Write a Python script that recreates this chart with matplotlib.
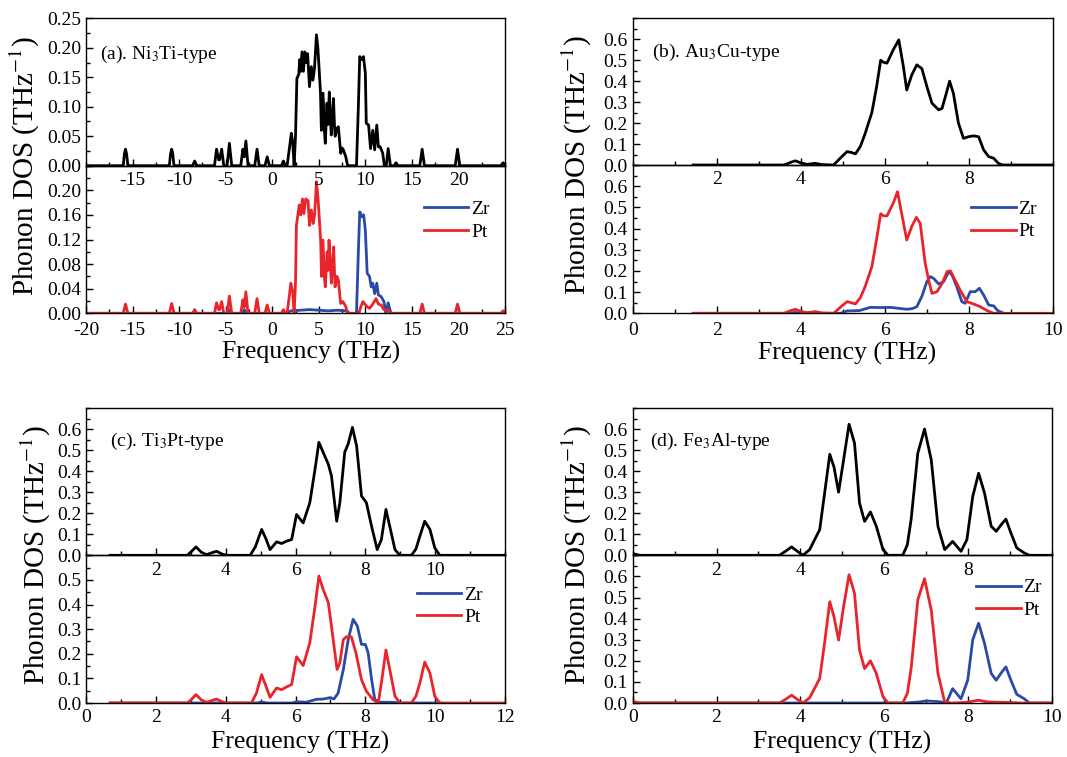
import matplotlib.pyplot as plt
from matplotlib.ticker import AutoMinorLocator

plt.rcParams['font.family'] = 'serif'
plt.rcParams['font.serif'] = ['Liberation Serif', 'DejaVu Serif']
plt.rcParams['mathtext.fontset'] = 'stix'
plt.rcParams['axes.unicode_minus'] = False

# ---- (a) Ni3Ti-type ----
freq_a_tot = [-20, -16.0, -15.88, -15.76, -15.64, -15.5, -11.05, -10.92, -10.8, -10.68, -10.55,
              -8.55, -8.33, -8.1, -6.2, -5.98, -5.75, -5.65, -5.43, -5.2, -4.85, -4.6, -4.35,
              -3.38, -3.15, -3.0, -2.83, -2.6, -1.88, -1.63, -1.4, -0.78, -0.54, -0.3, 1.0, 1.2, 1.4,
              1.6, 1.85, 2.05, 2.2, 2.35, 2.5, 2.65, 2.85, 2.95, 3.05, 3.2, 3.35, 3.5, 3.65, 3.8,
              4.0, 4.2, 4.37, 4.54, 4.75, 4.9, 5.0, 5.18, 5.28, 5.46, 5.6, 5.7, 5.88, 6.0, 6.13,
              6.25, 6.34, 6.58, 6.68, 6.76, 6.94, 7.1, 7.36, 7.5, 7.64, 7.9, 8.1, 9.05, 9.25, 9.4,
              9.6, 9.8, 10.0, 10.1, 10.35, 10.56, 10.8, 11.0, 11.23, 11.4, 11.6, 11.87, 12.04,
              12.25, 12.45, 12.7, 13.1, 13.3, 13.5, 15.85, 16.1, 16.35, 19.65, 19.9, 20.15,
              24.55, 24.8, 25]
dos_a_tot = [0, 0, 0.02, 0.028, 0.02, 0, 0, 0.02, 0.028, 0.02, 0,
             0, 0.008, 0, 0, 0.028, 0.01, 0.01, 0.028, 0, 0, 0.038, 0,
             0, 0.028, 0.015, 0.042, 0, 0, 0.028, 0, 0, 0.015, 0, 0, 0.008, 0,
             0, 0.03, 0.055, 0.04, 0, 0.05, 0.148, 0.155, 0.18, 0.16, 0.193, 0.16, 0.193, 0.175, 0.19,
             0.134, 0.168, 0.145, 0.165, 0.222, 0.2, 0.174, 0.125, 0.06, 0.123, 0.06, 0.038, 0.106, 0.07, 0.125,
             0.08, 0.052, 0.114, 0.07, 0.05, 0.063, 0.066, 0.021, 0.03, 0.027, 0.015, 0, 0, 0.1, 0.185,
             0.18, 0.185, 0.157, 0.072, 0.069, 0.029, 0.06, 0.027, 0.069, 0.032, 0.032, 0.021, 0,
             0, 0.029, 0, 0, 0.005, 0, 0, 0.028, 0, 0, 0.028, 0,
             0, 0.005, 0]

freq_a_zr = [-20, -4.8, -4.6, -4.4, -3.2, -3.0, -2.8, 1.5, 2.0, 3.0, 4.0, 5.0, 6.0, 7.0, 8.0, 8.3,
             9.05, 9.25, 9.4, 9.65, 9.82, 10.0, 10.2, 10.45, 10.63, 10.8, 11.0, 11.23, 11.4, 11.7,
             12.0, 12.2, 12.45, 12.75, 25]
dos_a_zr = [0, 0, 0.006, 0, 0, 0.006, 0, 0, 0.004, 0.005, 0.006, 0.005, 0.004, 0.005, 0.004, 0,
            0, 0.1, 0.165, 0.157, 0.16, 0.135, 0.065, 0.06, 0.043, 0.049, 0.032, 0.049, 0.03, 0.027,
            0.019, 0, 0.017, 0, 0]

freq_a_pt = [-20, -16.0, -15.76, -15.5, -11.05, -10.8, -10.55, -8.55, -8.33, -8.1,
             -6.2, -5.98, -5.75, -5.65, -5.43, -5.2, -4.85, -4.6, -4.35, -3.38, -3.15, -3.0, -2.83, -2.6,
             -1.88, -1.63, -1.4, -0.78, -0.54, -0.3, 1.0, 1.2, 1.4,
             1.6, 1.85, 2.0, 2.2, 2.35, 2.5, 2.6, 2.9, 3.05, 3.25, 3.4, 3.6, 3.85, 4.0, 4.2, 4.4,
             4.55, 4.75, 4.9, 5.0, 5.2, 5.3, 5.45, 5.6, 5.7, 5.9, 6.0, 6.1, 6.25, 6.35, 6.6, 6.68,
             6.75, 6.95, 7.1, 7.35, 7.6, 7.9, 8.1, 9.3, 9.55, 9.75, 10.1, 10.45, 10.8, 11.15, 11.4,
             11.7, 12.0, 12.4, 12.7, 15.85, 16.1, 16.35, 19.65, 19.9, 20.15, 24.55, 24.8, 25]
dos_a_pt = [0, 0, 0.015, 0, 0, 0.016, 0, 0, 0.006, 0,
            0, 0.017, 0.006, 0.006, 0.019, 0, 0, 0.028, 0, 0, 0.022, 0.01, 0.035, 0,
            0, 0.024, 0, 0, 0.0135, 0, 0, 0.006, 0,
            0, 0.03, 0.049, 0.035, 0, 0.05, 0.143, 0.176, 0.16, 0.186, 0.162, 0.186, 0.183, 0.143, 0.168, 0.146,
            0.16, 0.214, 0.19, 0.168, 0.119, 0.06, 0.119, 0.06, 0.043, 0.1, 0.07, 0.119, 0.08, 0.049, 0.108, 0.07,
            0.043, 0.06, 0.054, 0.016, 0.019, 0.011, 0, 0, 0.012, 0.019, 0.012, 0.008, 0.015, 0.024, 0.015,
            0.0135, 0.006, 0.005, 0, 0, 0.015, 0, 0, 0.015, 0, 0, 0.004, 0]

# ---- (b) Au3Cu-type ----
freq_b_tot = [1.44, 3.6, 3.75, 3.87, 4.0, 4.15, 4.34, 4.5, 4.78, 4.95, 5.1, 5.2, 5.3, 5.42, 5.53,
              5.69, 5.8, 5.9, 5.97, 6.05, 6.2, 6.33, 6.44, 6.52, 6.64, 6.76, 6.88, 7.0, 7.12, 7.28,
              7.36, 7.44, 7.54, 7.63, 7.75, 7.87, 7.99, 8.11, 8.23, 8.35, 8.47, 8.59, 8.7, 8.8, 10]
dos_b_tot = [0, 0, 0.012, 0.02, 0.01, 0.003, 0.008, 0.002, 0, 0.035, 0.064, 0.06, 0.053, 0.09, 0.15,
             0.25, 0.37, 0.5, 0.49, 0.486, 0.55, 0.597, 0.47, 0.358, 0.43, 0.478, 0.46, 0.374, 0.295, 0.263,
             0.27, 0.327, 0.40, 0.342, 0.2, 0.127, 0.135, 0.139, 0.135, 0.072, 0.04, 0.032, 0.008, 0, 0]
freq_b_zr = [1.44, 3.7, 3.87, 4.0, 4.94, 5.1, 5.4, 5.65, 5.9, 6.13, 6.35, 6.52, 6.65, 6.76, 6.88,
             7.0, 7.08, 7.16, 7.28, 7.4, 7.52, 7.6, 7.71, 7.83, 7.91, 8.03, 8.15, 8.25, 8.35, 8.47,
             8.59, 8.68, 8.83]
dos_b_zr = [0, 0, 0.004, 0, 0, 0.011, 0.013, 0.028, 0.027, 0.028, 0.023, 0.019, 0.022, 0.031, 0.08,
            0.15, 0.173, 0.165, 0.138, 0.15, 0.197, 0.18, 0.126, 0.055, 0.047, 0.102, 0.102, 0.118, 0.086, 0.039,
            0.035, 0.013, 0]
freq_b_pt = [1.44, 3.6, 3.75, 3.87, 4.0, 4.15, 4.34, 4.5, 4.78, 4.95, 5.1, 5.2, 5.3, 5.42, 5.53,
             5.69, 5.8, 5.9, 5.97, 6.05, 6.2, 6.3, 6.4, 6.52, 6.64, 6.75, 6.84, 6.96, 7.04, 7.12,
             7.24, 7.36, 7.48, 7.56, 7.67, 7.79, 7.95, 8.11, 8.27, 8.43, 8.59, 10]
dos_b_pt = [0, 0, 0.012, 0.019, 0.009, 0.003, 0.008, 0.002, 0, 0.03, 0.055, 0.05, 0.044, 0.075, 0.126,
            0.22, 0.346, 0.47, 0.46, 0.46, 0.52, 0.574, 0.47, 0.346, 0.41, 0.453, 0.425, 0.236, 0.157, 0.094,
            0.102, 0.14, 0.197, 0.2, 0.157, 0.11, 0.055, 0.044, 0.031, 0.013, 0, 0]

# ---- (c) Ti3Pt-type ----
freq_c_tot = [0.69, 2.9, 3.0, 3.15, 3.3, 3.45, 3.6, 3.74, 3.9, 4.03, 4.7, 4.85, 5.03, 5.15, 5.27,
              5.46, 5.6, 5.74, 5.89, 6.03, 6.22, 6.41, 6.56, 6.67, 6.79, 6.94, 7.03, 7.18, 7.27,
              7.41, 7.51, 7.63, 7.75, 7.89, 8.03, 8.18, 8.34, 8.46, 8.59, 8.7, 8.85, 8.99, 9.32,
              9.45, 9.56, 9.7, 9.85, 9.99, 10.13, 12]
dos_c_tot = [0, 0, 0.015, 0.04, 0.015, 0.003, 0.012, 0.019, 0.006, 0, 0, 0.04, 0.123, 0.08, 0.027,
             0.064, 0.056, 0.067, 0.075, 0.194, 0.154, 0.25, 0.41, 0.537, 0.49, 0.433, 0.377, 0.162, 0.25,
             0.49, 0.53, 0.608, 0.52, 0.282, 0.25, 0.137, 0.027, 0.075, 0.218, 0.137, 0.027, 0, 0,
             0.03, 0.09, 0.162, 0.123, 0.035, 0, 0]
freq_c_zr = [0.69, 4.9, 5.03, 5.2, 5.9, 6.03, 6.3, 6.6, 6.8, 7.0, 7.1, 7.22, 7.37, 7.51, 7.65,
             7.77, 7.89, 8.0, 8.08, 8.18, 8.27, 8.42, 8.8, 9.0, 10.13]
dos_c_zr = [0, 0, 0.004, 0, 0, 0.005, 0.003, 0.015, 0.016, 0.022, 0.016, 0.04, 0.136, 0.258, 0.34,
            0.313, 0.238, 0.238, 0.204, 0.095, 0.014, 0.003, 0.003, 0, 0]
freq_c_pt = [0.69, 2.9, 3.0, 3.15, 3.3, 3.45, 3.6, 3.74, 3.9, 4.03, 4.74, 4.88, 5.03, 5.15, 5.27,
             5.46, 5.6, 5.74, 5.89, 6.03, 6.22, 6.41, 6.56, 6.67, 6.79, 6.94, 7.03, 7.19, 7.27,
             7.37, 7.46, 7.6, 7.73, 7.89, 8.03, 8.22, 8.37, 8.46, 8.59, 8.7, 8.85, 8.99, 9.32,
             9.45, 9.56, 9.7, 9.85, 9.99, 10.13, 12]
dos_c_pt = [0, 0, 0.012, 0.034, 0.013, 0.003, 0.01, 0.016, 0.005, 0, 0, 0.04, 0.115, 0.07, 0.023,
            0.061, 0.054, 0.065, 0.075, 0.188, 0.152, 0.245, 0.394, 0.516, 0.462, 0.408, 0.3125, 0.136, 0.163,
            0.258, 0.269, 0.269, 0.204, 0.095, 0.048, 0.0136, 0, 0.0815, 0.215, 0.136, 0.027, 0, 0,
            0.028, 0.08, 0.166, 0.122, 0.027, 0, 0]

# ---- (d) Fe3Al-type ----
freq_d_tot = [0, 0.17, 3.5, 3.65, 3.79, 3.92, 4.06, 4.22, 4.46, 4.58, 4.7, 4.8, 4.91, 5.03, 5.16,
              5.29, 5.41, 5.53, 5.67, 5.81, 5.97, 6.09, 6.44, 6.55, 6.64, 6.8, 6.96, 7.12, 7.28,
              7.44, 7.63, 7.83, 7.97, 8.11, 8.25, 8.39, 8.55, 8.67, 8.79, 8.9, 9.02, 9.16, 9.34,
              9.46, 10]
dos_d_tot = [0.008, 0, 0, 0.02, 0.04, 0.02, 0, 0.027, 0.122, 0.3, 0.48, 0.42, 0.30, 0.454, 0.623,
             0.533, 0.248, 0.161, 0.206, 0.138, 0.027, 0, 0, 0.05, 0.17, 0.486, 0.6, 0.454, 0.138,
             0.027, 0.066, 0.019, 0.074, 0.28, 0.39, 0.296, 0.138, 0.114, 0.146, 0.172, 0.106, 0.035, 0.011,
             0, 0]
freq_d_zr = [0, 6.5, 6.84, 7.0, 7.32, 7.48, 7.63, 7.83, 7.99, 8.11, 8.25, 8.39, 8.55, 8.67, 8.79,
             8.9, 9.02, 9.16, 9.34, 9.46, 10]
dos_d_zr = [0, 0, 0.005, 0.01, 0.006, 0, 0.068, 0.02, 0.108, 0.3, 0.378, 0.283, 0.14, 0.108, 0.143,
            0.171, 0.108, 0.041, 0.02, 0, 0]
freq_d_pt = [0, 0.17, 3.5, 3.65, 3.79, 3.92, 4.06, 4.22, 4.46, 4.58, 4.7, 4.8, 4.91, 5.03, 5.16,
             5.29, 5.41, 5.53, 5.67, 5.81, 5.97, 6.09, 6.44, 6.55, 6.64, 6.8, 6.96, 7.12, 7.28,
             7.44, 7.6, 7.95, 8.15, 8.25, 8.47, 8.9, 9.3, 10]
dos_d_pt = [0.008, 0, 0, 0.018, 0.037, 0.018, 0, 0.025, 0.116, 0.29, 0.48, 0.41, 0.298, 0.457, 0.608,
            0.52, 0.25, 0.163, 0.2, 0.14, 0.029, 0, 0, 0.045, 0.163, 0.489, 0.589, 0.441, 0.14,
            0.005, 0, 0.003, 0.01, 0.013, 0.005, 0.003, 0, 0]

labels = ['(a). Ni$_3$Ti-type', '(b). Au$_3$Cu-type', '(c). Ti$_3$Pt-type', '(d). Fe$_3$Al-type']

W, H = 1067, 757
fig = plt.figure(figsize=(W / 100, H / 100), dpi=100)

BLUE = '#2a4aa6'
RED = '#e8252a'


def add_ax(left, top, right, bottom):
    return fig.add_axes([left / W, 1 - bottom / H, (right - left) / W, (bottom - top) / H])


def style(ax, xpad):
    ax.tick_params(which='both', direction='in', top=False, right=False, labelsize=14)
    ax.tick_params(which='major', length=5, width=1)
    ax.tick_params(which='minor', length=3, width=1)
    ax.tick_params(axis='x', pad=xpad)
    ax.xaxis.set_minor_locator(AutoMinorLocator(2))
    ax.yaxis.set_minor_locator(AutoMinorLocator(2))
    for s in ax.spines.values():
        s.set_linewidth(1)


panels = [
    dict(box=(86, 18.3, 505, 165.7, 313.3), xlim=(-20, 25), xt_top=[-15, -10, -5, 0, 5, 10, 15, 20],
         xt_bot=[-20, -15, -10, -5, 0, 5, 10, 15, 20, 25],
         ylim_top=0.25, yt_top=[0, 0.05, 0.10, 0.15, 0.20, 0.25], ylim_bot=0.24,
         yt_bot=[0, 0.04, 0.08, 0.12, 0.16, 0.20], fmt='%.2f',
         tot=(freq_a_tot, dos_a_tot), zr=(freq_a_zr, dos_a_zr), pt=(freq_a_pt, dos_a_pt),
         lab=(0.033, 0.725), leg=(0.964, 0.629), ylab_x=25, xlab=(0.537, -0.19), xpad=6),
    dict(box=(632.7, 18.3, 1053, 165, 313.3), xlim=(0, 10), xt_top=[2, 4, 6, 8],
         xt_bot=[0, 2, 4, 6, 8, 10],
         ylim_top=0.7, yt_top=[0, 0.1, 0.2, 0.3, 0.4, 0.5, 0.6], ylim_bot=0.7,
         yt_bot=[0, 0.1, 0.2, 0.3, 0.4, 0.5, 0.6], fmt='%.1f',
         tot=(freq_b_tot, dos_b_tot), zr=(freq_b_zr, dos_b_zr), pt=(freq_b_pt, dos_b_pt),
         lab=(0.045, 0.74), leg=(0.962, 0.627), ylab_x=577, xlab=(0.51, -0.19), xpad=6),
    dict(box=(86, 408, 505, 555.3, 703), xlim=(0, 12), xt_top=[2, 4, 6, 8, 10],
         xt_bot=[0, 2, 4, 6, 8, 10, 12],
         ylim_top=0.7, yt_top=[0, 0.1, 0.2, 0.3, 0.4, 0.5, 0.6], ylim_bot=0.6,
         yt_bot=[0, 0.1, 0.2, 0.3, 0.4, 0.5], fmt='%.1f',
         tot=(freq_c_tot, dos_c_tot), zr=(freq_c_zr, dos_c_zr), pt=(freq_c_pt, dos_c_pt),
         lab=(0.057, 0.74), leg=(0.947, 0.655), ylab_x=36, xlab=(0.51, -0.19), xpad=4),
    dict(box=(632.7, 408, 1052, 555.3, 703), xlim=(0, 10), xt_top=[2, 4, 6, 8],
         xt_bot=[0, 2, 4, 6, 8, 10],
         ylim_top=0.7, yt_top=[0, 0.1, 0.2, 0.3, 0.4, 0.5, 0.6], ylim_bot=0.7,
         yt_bot=[0, 0.1, 0.2, 0.3, 0.4, 0.5, 0.6], fmt='%.1f',
         tot=(freq_d_tot, dos_d_tot), zr=(freq_d_zr, dos_d_zr), pt=(freq_d_pt, dos_d_pt),
         lab=(0.041, 0.74), leg=(0.976, 0.705), ylab_x=577, xlab=(0.5, -0.19), xpad=4),
]

for p, lab in zip(panels, labels):
    left, top, right, mid, bottom = p['box']
    ax_bot = add_ax(left, mid, right, bottom)
    ax_top = add_ax(left, top, right, mid)
    ax_bot.set_facecolor('none')
    ax_top.set_facecolor('none')

    ax_top.plot(*p['tot'], color='black', lw=2, solid_joinstyle='round')
    ax_bot.plot(*p['zr'], color=BLUE, lw=2, label='Zr', solid_joinstyle='round')
    ax_bot.plot(*p['pt'], color=RED, lw=2, label='Pt', solid_joinstyle='round')

    for ax, xpad in ((ax_top, 4.5), (ax_bot, p['xpad'])):
        ax.set_xlim(*p['xlim'])
        style(ax, xpad)
    ax_top.set_xticks(p['xt_top'])
    ax_bot.set_xticks(p['xt_bot'])
    ax_top.set_yticks(p['yt_top'])
    ax_bot.set_yticks(p['yt_bot'])
    ax_top.set_yticklabels([p['fmt'] % v for v in p['yt_top']])
    ax_bot.set_yticklabels([p['fmt'] % v for v in p['yt_bot']])
    ax_top.set_ylim(0, p['ylim_top'])
    ax_bot.set_ylim(0, p['ylim_bot'])

    ax_top.text(p['lab'][0], p['lab'][1], lab, transform=ax_top.transAxes,
                fontsize=14, ha='left', va='baseline')
    ax_bot.legend(loc='center right', bbox_to_anchor=p['leg'], frameon=False, fontsize=14,
                  handlelength=2.3, handletextpad=0.15, borderpad=0, borderaxespad=0,
                  labelspacing=0.25)
    ax_bot.set_xlabel('Frequency (THz)', fontsize=18.5)
    ax_bot.xaxis.set_label_coords(*p['xlab'])
    ax_bot.xaxis.label.set_va('top')
    fig.text(p['ylab_x'] / W, 1 - mid / H, 'Phonon DOS (THz$^{-1}$)', rotation=90,
             ha='center', va='center', fontsize=21)

fig.savefig('out.png', dpi=100)
